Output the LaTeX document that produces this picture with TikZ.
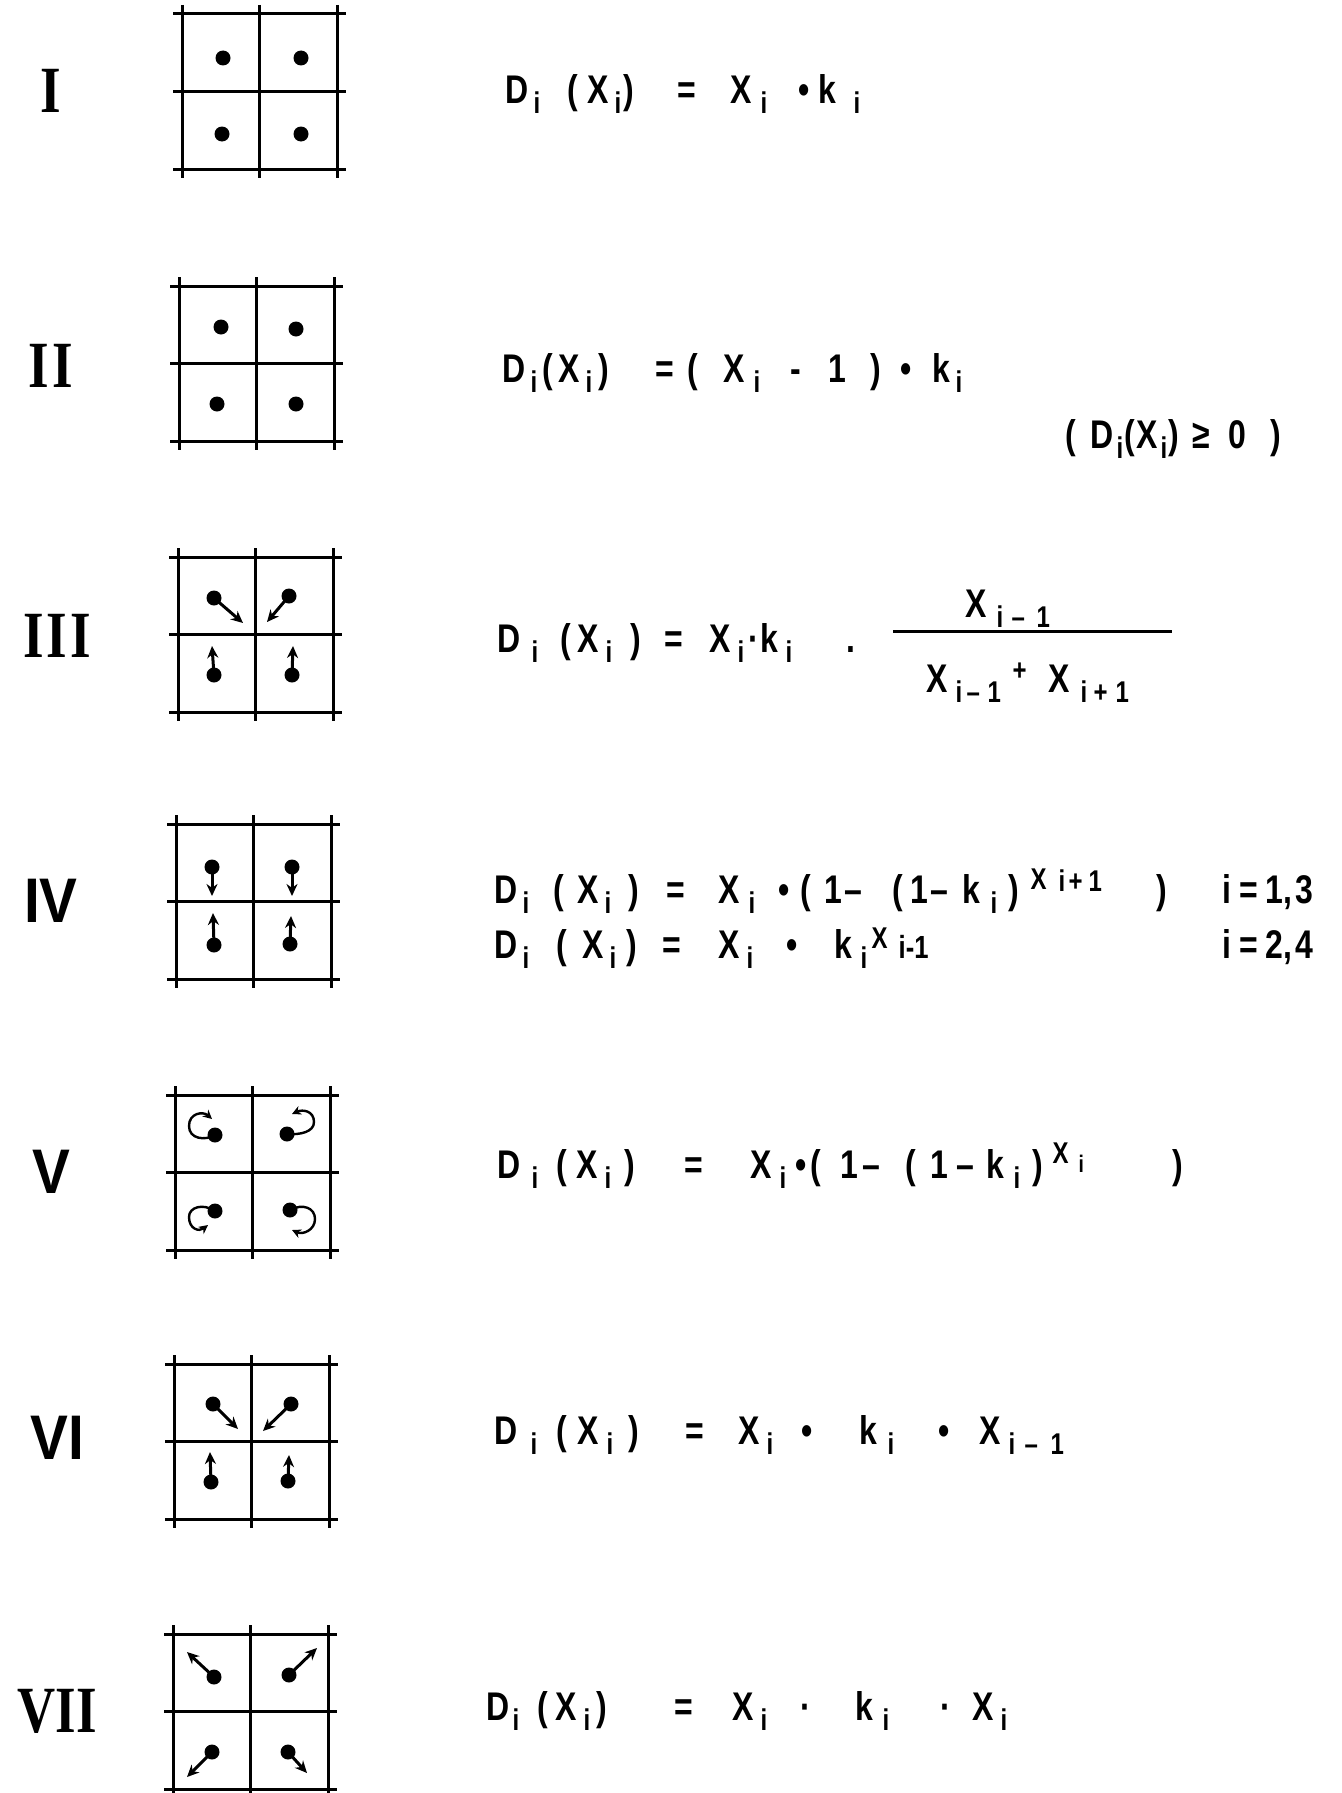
\documentclass[tikz,border=0pt]{standalone}
\usepackage{fontspec}
\setmainfont{Liberation Sans}[FakeStretch=0.8]
\newfontfamily\romser{Liberation Serif}[FakeStretch=0.8]
\newfontfamily\romsan{Liberation Sans}[FakeStretch=0.9]
\usetikzlibrary{arrows.meta}
% place #2 at absolute x=#1 (px) inside a formula node whose start is \xo
\newcommand\at[2]{\makebox[0pt][l]{\hspace*{\dimexpr#1pt-\xo pt\relax}#2}}
\newcommand\SB[2]{\at{#1}{\raisebox{-10pt}{\fontsize{30}{30}\selectfont #2}}}
\newcommand\SP[3]{\at{#1}{\raisebox{#2pt}{\fontsize{30}{30}\selectfont #3}}}
\tikzset{
  frm/.style={anchor=base west, inner sep=0pt, font=\bfseries\fontsize{40}{44}\selectfont},
  romA/.style={anchor=center, inner sep=0pt, font=\romser\bfseries\fontsize{66}{70}\selectfont},
  romB/.style={anchor=center, inner sep=0pt, font=\romsan\bfseries\fontsize{63}{66}\selectfont},
  gridline/.style={line width=3pt},
  dotn/.style={circle, fill, inner sep=0pt, minimum size=15pt},
  arr/.style={line width=3pt, -{Stealth[length=12pt,width=11pt]}},
  loopa/.style={line width=2.4pt, -{Stealth[length=9pt,width=9pt]}},
}
\newcommand\gridlines{%
  \foreach \k in {0,1,2} {
    \draw[gridline] (-9,\k*77.5) -- (164,\k*77.5);
    \draw[gridline] (\k*77.5,-9) -- (\k*77.5,164);
  }}
\begin{document}
\begin{tikzpicture}[x=1pt,y=-1pt]
\useasboundingbox (0,0) rectangle (1341,1793);
\fill[white] (0,0) rectangle (1341,1793);

% ---------- numerals
\node[romA] (rI)   at (51,91)   {I};
\node[romA] (rII)  at (51,366)  {I\kern3pt I};
\node[romA] (rIII) at (57,636)  {I\kern3pt I\kern3pt I};
\node[romB] (rIV)  at (51,901)  {IV};
\node[romB] (rV)   at (51,1172) {V};
\node[romB] (rVI)  at (57,1438) {VI};
\node[romA] (rVII) at (57,1711) {VII};

% ---------- grid I
\begin{scope}[shift={(182,14)}]
  \gridlines
  \node[dotn] (d1a) at (41,44) {};
  \node[dotn] (d1b) at (119,44) {};
  \node[dotn] (d1c) at (40,120) {};
  \node[dotn] (d1d) at (119,120) {};
\end{scope}
% ---------- grid II
\begin{scope}[shift={(179,286)}]
  \gridlines
  \node[dotn] (d2a) at (42,41) {};
  \node[dotn] (d2b) at (117,43) {};
  \node[dotn] (d2c) at (38,118) {};
  \node[dotn] (d2d) at (117,118) {};
\end{scope}
% ---------- grid III
\begin{scope}[shift={(178,557)}]
  \gridlines
  \node[dotn] (d3a) at (36,41) {};
  \node[dotn] (d3b) at (111,39) {};
  \node[dotn] (d3c) at (36,118) {};
  \node[dotn] (d3d) at (114,118) {};
  \coordinate (e3a) at (65,66);
  \coordinate (e3b) at (89,65);
  \coordinate (e3c) at (34,89);
  \coordinate (e3d) at (115,89);
  \draw[arr] (d3a.center) -- (e3a);
  \draw[arr] (d3b.center) -- (e3b);
  \draw[arr] (d3c.center) -- (e3c);
  \draw[arr] (d3d.center) -- (e3d);
\end{scope}
% ---------- grid IV
\begin{scope}[shift={(176,824)}]
  \gridlines
  \node[dotn] (d4a) at (36,43) {};
  \node[dotn] (d4b) at (116,43) {};
  \node[dotn] (d4c) at (38,121) {};
  \node[dotn] (d4d) at (114,120) {};
  \coordinate (e4a) at (36,72);
  \coordinate (e4b) at (116,72);
  \coordinate (e4c) at (37,89);
  \coordinate (e4d) at (115,92);
  \draw[arr] (d4a.center) -- (e4a);
  \draw[arr] (d4b.center) -- (e4b);
  \draw[arr] (d4c.center) -- (e4c);
  \draw[arr] (d4d.center) -- (e4d);
\end{scope}
% ---------- grid V
\begin{scope}[shift={(175,1095)}]
  \gridlines
  \node[dotn] (d5a) at (40,40) {};
  \node[dotn] (d5b) at (112,39) {};
  \node[dotn] (d5c) at (40,116) {};
  \node[dotn] (d5d) at (115,115) {};
  \coordinate (e5a) at (37,24);
  \coordinate (e5b) at (117,19);
  \coordinate (e5c) at (33,130);
  \coordinate (e5d) at (117,135);
  \draw[loopa] (d5a.center) .. controls (30,46) and (14,44) .. (14,31) .. controls (14,18) and (28,16) .. (e5a);
  \draw[loopa] (d5b.center) .. controls (125,40) and (139,37) .. (139,27) .. controls (139,16) and (128,14) .. (e5b);
  \draw[loopa] (d5c.center) .. controls (28,108) and (14,112) .. (14,122) .. controls (14,134) and (24,137) .. (e5c);
  \draw[loopa] (d5d.center) .. controls (128,108) and (140,113) .. (140,124) .. controls (140,135) and (128,140) .. (e5d);
\end{scope}
% ---------- grid VI
\begin{scope}[shift={(174,1364)}]
  \gridlines
  \node[dotn] (d6a) at (39,40) {};
  \node[dotn] (d6b) at (117,40) {};
  \node[dotn] (d6c) at (37,118) {};
  \node[dotn] (d6d) at (114,117) {};
  \coordinate (e6a) at (64,65);
  \coordinate (e6b) at (89,67);
  \coordinate (e6c) at (36,88);
  \coordinate (e6d) at (115,91);
  \draw[arr] (d6a.center) -- (e6a);
  \draw[arr] (d6b.center) -- (e6b);
  \draw[arr] (d6c.center) -- (e6c);
  \draw[arr] (d6d.center) -- (e6d);
\end{scope}
% ---------- grid VII
\begin{scope}[shift={(173,1634)}]
  \gridlines
  \node[dotn] (d7a) at (41,43) {};
  \node[dotn] (d7b) at (116,41) {};
  \node[dotn] (d7c) at (39,118) {};
  \node[dotn] (d7d) at (115,118) {};
  \coordinate (e7a) at (14,18);
  \coordinate (e7b) at (144,14);
  \coordinate (e7c) at (14,143);
  \coordinate (e7d) at (134,139);
  \draw[arr] (d7a.center) -- (e7a);
  \draw[arr] (d7b.center) -- (e7b);
  \draw[arr] (d7c.center) -- (e7c);
  \draw[arr] (d7d.center) -- (e7d);
\end{scope}

% ---------- formulas
\node[frm] (f1) at (505,103) {\def\xo{505}%
  \at{505}{D}\SB{533}{i}\at{567}{(}\at{587}{X}\SB{614}{i}\at{623}{)}%
  \at{677}{=}\at{730}{X}\SB{760}{i}\at{798}{•}\at{818}{k}\SB{853}{i}};

\node[frm] (f2) at (502,382) {\def\xo{502}%
  \at{502}{D}\SB{530}{i}\at{542}{(}\at{558}{X}\SB{585}{i}\at{598}{)}%
  \at{655}{=}\at{687}{(}\at{723}{X}\SB{753}{i}\at{790}{-}\at{828}{1}\at{870}{)}%
  \at{900}{•}\at{932}{k}\SB{955}{i}};
\node[frm] (f2b) at (1065,448) {\def\xo{1065}%
  \at{1065}{(}\at{1090}{D}\SB{1116}{i}\at{1124}{(}\at{1136}{X}\SB{1160}{i}\at{1168}{)}%
  \at{1192}{≥}\at{1228}{0}\at{1270}{)}};

\node[frm] (f3) at (497,652) {\def\xo{497}%
  \at{497}{D}\SB{531}{i}\at{560}{(}\at{577}{X}\SB{605}{i}\at{630}{)}%
  \at{664}{=}\at{709}{X}\SB{737}{i}\at{748}{·}\at{760}{k}\SB{785}{i}\at{846}{.}};
\node[frm] (f3n) at (965,617) {\def\xo{965}%
  \at{965}{X}\SB{996}{i}\SB{1011}{–}\SB{1036}{1}};
\node[frm] (f3d) at (926,692) {\def\xo{926}%
  \at{926}{X}\SB{955}{i}\SB{966}{–}\SB{987}{1}\SP{1012}{12}{+}%
  \at{1048}{X}\SB{1080}{i}\SB{1093}{+}\SB{1115}{1}};
\coordinate (fl1) at (893,631);
\coordinate (fl2) at (1172,631);
\draw[line width=3pt] (fl1) -- (fl2);

\node[frm] (f4a) at (494,903) {\def\xo{494}%
  \at{494}{D}\SB{522}{i}\at{553}{(}\at{577}{X}\SB{604}{i}\at{628}{)}%
  \at{666}{=}\at{718}{X}\SB{748}{i}\at{778}{•}\at{800}{(}\at{824}{1}\at{844}{–}%
  \at{892}{(}\at{910}{1}\at{930}{–}\at{962}{k}\SB{990}{i}\at{1008}{)}%
  \SP{1030}{14}{X}\SP{1058}{12}{i}\SP{1068}{12}{+}\SP{1088}{12}{1}\at{1156}{)}};
\node[frm] (f4ai) at (1222,903) {i\hspace{8pt}=\hspace{8pt}1,\hspace{3pt}3};
\node[frm] (f4b) at (494,958) {\def\xo{494}%
  \at{494}{D}\SB{522}{i}\at{556}{(}\at{582}{X}\SB{609}{i}\at{626}{)}%
  \at{662}{=}\at{718}{X}\SB{746}{i}\at{786}{•}\at{834}{k}\SB{860}{i}%
  \SP{871}{10}{X}\SP{898}{0}{\fontsize{32}{32}\selectfont i-1}};
\node[frm] (f4bi) at (1222,958) {i\hspace{8pt}=\hspace{8pt}2,\hspace{3pt}4};

\node[frm] (f5) at (497,1178) {\def\xo{497}%
  \at{497}{D}\SB{531}{i}\at{556}{(}\at{576}{X}\SB{604}{i}\at{624}{)}%
  \at{684}{=}\at{750}{X}\SB{779}{i}\at{795}{•}\at{810}{(}\at{840}{1}\at{862}{–}%
  \at{905}{(}\at{930}{1}\at{956}{–}\at{986}{k}\SB{1013}{i}\at{1032}{)}%
  \SP{1052}{15}{X}\SP{1078}{6}{\fontsize{24}{24}\selectfont i}\at{1172}{)}};

\node[frm] (f6) at (494,1444) {\def\xo{494}%
  \at{494}{D}\SB{530}{i}\at{556}{(}\at{577}{X}\SB{606}{i}\at{628}{)}%
  \at{685}{=}\at{738}{X}\SB{766}{i}\at{801}{•}\at{859}{k}\SB{887}{i}%
  \at{938}{•}\at{979}{X}\SB{1008}{i}\SB{1024}{–}\SB{1050}{1}};

\node[frm] (f7) at (486,1720) {\def\xo{486}%
  \at{486}{D}\SB{512}{i}\at{537}{(}\at{555}{X}\SB{583}{i}\at{596}{)}%
  \at{674}{=}\at{732}{X}\SB{760}{i}\at{800}{·}\at{855}{k}\SB{882}{i}%
  \at{940}{·}\at{972}{X}\SB{1000}{i}};
\end{tikzpicture}
\end{document}
